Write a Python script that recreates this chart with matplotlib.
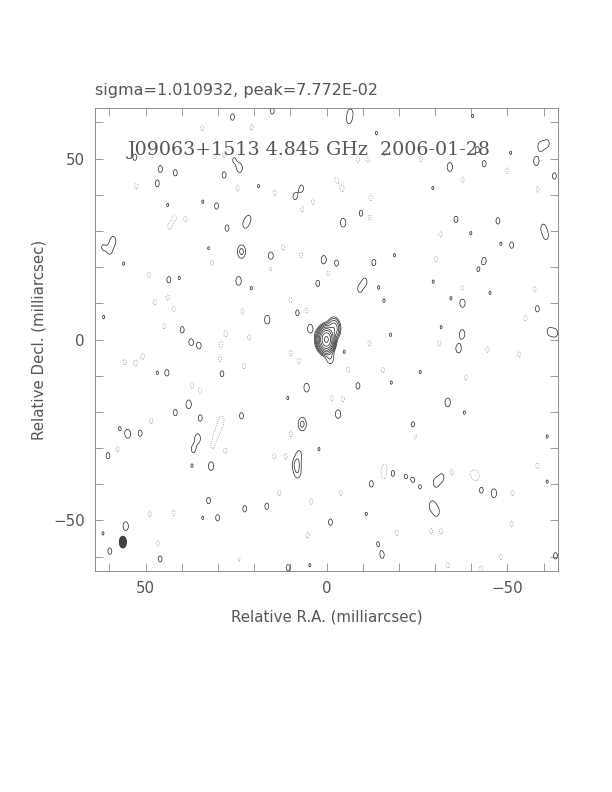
import numpy as np
import matplotlib
matplotlib.use("Agg")
import matplotlib.pyplot as plt
from matplotlib.patches import Ellipse
from matplotlib.ticker import MultipleLocator, FixedLocator

# map info
title_txt = "sigma=1.010932, peak=7.772E-02"
label_txt = "J09063+1513 4.845 GHz  2006-01-28"
xlabel_txt = "Relative R.A. (milliarcsec)"
ylabel_txt = "Relative Decl. (milliarcsec)"
map_half = 64.0

# restoring beam (mas), gaussian sigma and plotted FWHM
beam_sx = 0.85
beam_sy = 1.4
beam_ra = 56.3
beam_dec = -56.0
beam_w = 2.0
beam_h = 3.3

# contour levels in units of the lowest level
pos_levels = [1, 2, 4, 8, 16, 32, 64, 128, 256]
neg_levels = [-1]

# central source components
src_ra = [0.0, 1.2, -2.0, -1.0]
src_dec = [0.0, 0.0, 3.0, -5.0]
src_amp = [300.0, 20.0, 15.0, 2.0]

# blob strength codes
T, S, M, D = 1.06, 1.22, 1.45, 2.4
N = -1.15

pos_ra = [26.0, 15.0, 53.0, 45.9, 41.8, 28.3, 24.0, 25.6, 46.8, 18.8, 6.9, 8.7, 34.2, 30.4, 43.9,
          21.4, 22.5, 27.5, 59.0, 59.9, 61.8, 23.5, 32.6, 15.4, 0.75, 56.1, 43.6, 40.7, 24.3, 2.4,
          20.8, 61.6, 16.4, 8.0, 4.5, 39.9, 37.5, 35.2,
          -6.6, -40.4, -6.2, -13.8, -41.7, -50.9, -59.2, -61.0, -58.0, -34.1, -43.6, -63.0, -29.4,
          -9.6, -4.6, -35.8, -47.4, -59.9, -60.7, -39.9, -48.2, -51.2, -18.8, -2.75, -13.1, -43.6,
          -41.9, -10.6, -9.2, -14.4, -29.5, -45.2, -15.9, -34.4, -37.6, -58.3, -31.7, -17.7, -61.6,
          -63.3,
          -37.5, -36.5, -4.9, -25.9, -17.9, -8.7, -33.5, -3.2, -38.1, -23.9, -61.0, -18.3, -21.8,
          -31.9, -30.3, -12.4, -23.9, -25.9, -42.8, -46.3, -61.0, -29.2, -30.4, -11.0, -1.1, -14.2,
          -15.4, -63.3,
          44.1, 46.8, 28.9, 5.5, 10.7, 38.1, 41.8, 34.9, 23.5, 6.7, 57.2, 54.9, 51.5, 35.6, 36.8,
          60.4, 2.1, 7.6, 31.9, 37.2, 8.3, 8.0, 32.6, 22.6, 16.5, 30.1, 34.2, 55.5, 61.8, 59.9,
          46.0, 24.0, 10.6, 4.6]
pos_dec = [61.5, 63.2, 50.4, 47.2, 46.1, 45.5, 47.4, 49.7, 43.1, 42.4, 41.8, 39.5, 38.1, 36.9, 37.2,
           33.5, 31.8, 30.8, 27.3, 24.6, 25.5, 24.3, 25.2, 23.0, 22.0, 21.0, 16.5, 17.0, 16.2, 15.5,
           14.2, 6.2, 5.5, 7.4, 3.0, 2.7, -0.7, -1.7,
           62.7, 61.8, 60.5, 57.1, 52.5, 51.6, 53.4, 54.2, 49.3, 47.7, 48.6, 45.2, 41.9,
           34.9, 32.3, 33.2, 32.8, 30.9, 28.6, 29.4, 26.5, 26.1, 23.3, 21.1, 21.3, 21.8,
           19.3, 16.0, 14.0, 14.4, 16.0, 12.9, 10.7, 11.4, 10.1, 8.5, 3.4, 1.3, 2.2,
           1.8,
           1.5, -2.5, -3.4, -9.0, -11.9, -12.8, -17.4, -20.6, -20.2, -23.6, -26.8, -37.0, -37.8,
           -38.1, -39.6, -39.9, -38.8, -40.8, -41.6, -42.5, -39.3, -45.9, -47.6, -48.2, -50.5, -56.4,
           -59.6, -59.8,
           -9.2, -9.2, -9.4, -13.3, -16.2, -17.9, -20.2, -21.7, -21.1, -23.4, -24.6, -26.1, -25.9,
           -27.3, -30.3, -32.1, -30.3, -31.7, -35.0, -34.9, -34.5, -37.0, -44.5, -46.8, -46.1,
           -49.3, -49.3, -51.6, -53.6, -58.5, -60.6, -57.5, -63.1, -62.4]
pos_amp = [S, S, S, S, S, S, M, T, S, T, S, S, T, S, T,
           T, S, S, M, S, T, D, T, M, M, T, S, T, M, S,
           T, T, M, S, M, S, S, S,
           S, T, T, T, S, T, M, S, M, M, S, S, T,
           S, M, S, S, S, S, T, T, S, T, S, S, S,
           T, S, S, T, T, T, T, T, M, S, T, T, S,
           S,
           M, M, T, T, T, S, M, M, T, S, T, S, T,
           S, M, S, T, T, S, M, T, M, M, T, S, T,
           S, S,
           S, T, S, M, T, M, S, S, S, D, T, M, S, M, S,
           S, T, S, M, T, D, M, S, S, S, S, T, M, T, S,
           S, T, S, T]

# negative noise blobs (dotted contours)
neg_ra = [34.4, 20.7, 31.0, 28.3, 52.6, 24.6, 14.3, 3.7, 6.7, 42.0, 39.0, 43.4, 12.0, 7.0, 31.7,
          15.4, 49.1, 43.9, 47.5, 42.2, 9.9, 5.6, 23.2, 27.8, 21.4, 44.8,
          -11.5, -16.1, -8.7, -26.1, -2.75, -4.4, -37.6, -50.0, -58.4, -12.2, -11.9, -31.5, -30.3,
          -0.5, -37.6, -57.5, -55.0,
          29.2, 50.8, 55.8, 52.8, 29.5, 22.8, 9.9, 7.6, 37.2, 34.9, 48.5, 28.9, 29.7, 30.6, 31.5,
          28.0, 9.9, 57.8, 14.5, 11.3, 13.1, 4.2, 48.9, 42.3, 46.6, 24.2, 5.2,
          -11.9, -31.2, -44.5, -53.2, -6.0, -15.6, -38.5, -1.4, -4.6, -24.6, -16.1,
          -15.8, -34.6, -40.4, -41.7, -51.4, -58.3, -3.9, -51.2, -19.5, -28.9, -31.7, -48.2, -42.8,
          -33.5]
neg_dec = [58.5, 58.7, 50.7, 51.1, 42.4, 41.8, 40.6, 38.1, 36.0, 33.7, 33.3, 31.2, 25.5, 23.4, 21.3,
           19.7, 17.9, 11.7, 10.3, 8.3, 10.9, 8.0, 7.8, 1.8, 0.6, 3.7,
           49.7, 51.6, 49.7, 49.9, 44.2, 41.7, 44.2, 46.7, 41.5, 39.2, 33.7, 29.1, 22.2,
           18.4, 14.2, 14.0, 5.9,
           -1.4, -4.6, -6.2, -6.6, -5.5, -7.3, -3.7, -6.0, -12.7, -14.2, -22.5, -22.0, -24.3, -26.6,
           -29.4, -30.7, -26.1, -30.3, -32.3, -32.3, -42.4, -44.8, -48.2, -47.9, -56.4, -60.6, -54.1,
           -1.1, -1.1, -2.8, -4.1, -8.3, -8.4, -10.5, -16.1, -16.5, -26.8, -35.3,
           -37.6, -36.7, -37.2, -37.9, -42.4, -34.9, -42.4, -50.9, -53.5, -53.0, -53.0, -60.1, -63.3,
           -62.4]

# build the map from the components
g = np.linspace(-map_half, map_half, 800)
X, Y = np.meshgrid(g, g)
img = np.zeros_like(X)


def add_blob(img, ra, dec, amp):
    return img + amp * np.exp(-0.5 * ((X - ra) / beam_sx) ** 2 - 0.5 * ((Y - dec) / beam_sy) ** 2)


for ra, dec, a in zip(src_ra, src_dec, src_amp):
    img = add_blob(img, ra, dec, a)
for ra, dec, a in zip(pos_ra, pos_dec, pos_amp):
    img = add_blob(img, ra, dec, a)
for ra, dec in zip(neg_ra, neg_dec):
    img = add_blob(img, ra, dec, N)

fig = plt.figure(figsize=(8.5, 11), dpi=72)
ax = fig.add_axes([95 / 612, 1 - 571 / 792, 463 / 612, 463 / 792])

ax.contour(X, Y, img, levels=pos_levels, colors='#222222', linewidths=0.7)
ax.contour(X, Y, img, levels=neg_levels, colors='#666666', linewidths=0.7,
           linestyles=[(0, (1, 2))])

beam = Ellipse((beam_ra, beam_dec), beam_w, beam_h, facecolor='#444444',
               edgecolor='#111111', linewidth=0.6)
ax.add_patch(beam)

ax.set_xlim(map_half, -map_half)
ax.set_ylim(-map_half, map_half)

gray = '#777777'
for sp in ax.spines.values():
    sp.set_color(gray)
    sp.set_linewidth(0.8)
ax.xaxis.set_major_locator(FixedLocator([-50, 0, 50]))
ax.yaxis.set_major_locator(FixedLocator([-50, 0, 50]))
ax.xaxis.set_minor_locator(MultipleLocator(10))
ax.yaxis.set_minor_locator(MultipleLocator(10))
ax.tick_params(which='both', direction='in', top=True, right=True, length=8,
               width=0.7, color=gray)
ax.tick_params(which='major', labelsize=15, labelcolor='#555555', pad=10)

ax.set_xlabel(xlabel_txt, fontsize=15, color='#555555', labelpad=14)
ax.set_ylabel(ylabel_txt, fontsize=15, color='#555555', labelpad=7)

fig.text(95 / 612, 1 - 90 / 792, title_txt, fontsize=16, color='#555555',
         ha='left', va='center')
ax.text(128 / 612, 1 - 150 / 792, label_txt, transform=fig.transFigure, fontsize=19,
        color='#555555', family='DejaVu Serif', ha='left', va='center')

fig.savefig("out.png", dpi=72)
